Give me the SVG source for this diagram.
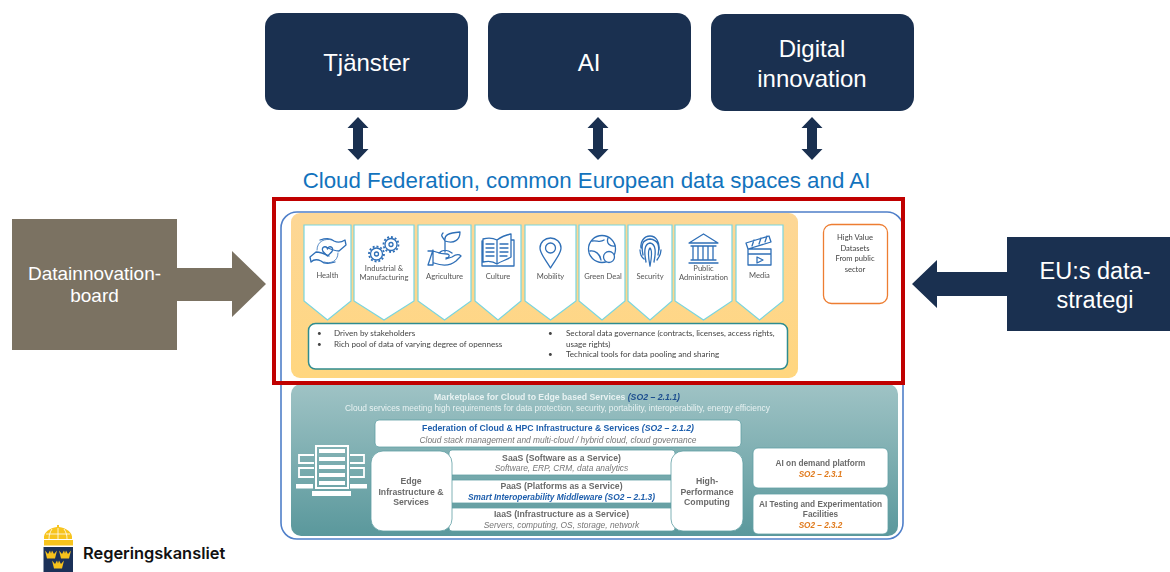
<svg xmlns="http://www.w3.org/2000/svg" xmlns:xlink="http://www.w3.org/1999/xlink" width="1170" height="572" viewBox="0 0 1170 572">
<style>
text{text-anchor:middle}
.top{font:24px "Liberation Sans",Arial,sans-serif;fill:#fff}
.side{font:19px "Liberation Sans",Arial,sans-serif;fill:#fff}
.navy{fill:#1a3050}
.pent{fill:#fff;stroke:#79d5de;stroke-width:1.200}
.lab{font:7.6px Lato,"Liberation Sans",sans-serif;fill:#555}
.bul{font:8.1px Lato,"Liberation Sans",sans-serif;fill:#444;text-anchor:start}
.ic{fill:none;stroke:#2f6fb7;stroke-width:1.300;stroke-linejoin:round;stroke-linecap:round}
.wb{fill:#fff;stroke:#5f9ea3;stroke-width:.8}
.h{font:bold 8.700px "Liberation Sans",Arial,sans-serif;fill:#6a6a6a}
.ai{font-size:8.250px}
.i{font:italic 8.400px "Liberation Sans",Arial,sans-serif;fill:#777}
.b{font-weight:bold;fill:#1f5fad}
.o{font:italic bold 8.200px "Liberation Sans",Arial,sans-serif;fill:#e07b1f}
.soft{filter:url(#s)}
</style>
<defs>
<filter id="s" x="-5%" y="-5%" width="110%" height="110%"><feGaussianBlur stdDeviation="0.4"/></filter>
<linearGradient id="y" x1="0" y1="0" x2="0" y2="1"><stop offset="0" stop-color="#fdd796"/><stop offset="1" stop-color="#ffd67f"/></linearGradient>
<linearGradient id="t" x1="0" y1="0" x2="0" y2="1"><stop offset="0" stop-color="#9fc3c5"/><stop offset="1" stop-color="#5a989c"/></linearGradient>
<g id="dbl"><path class="navy" d="M0-21.500 10.500-10.500H5V10.500H10.500L0 21.500-10.500 10.500H-5V-10.500H-10.500Z"/></g>
<g id="cr"><path fill="#f6c21c" d="M-6-4.500-3-1-1-4.500 0-1.500 1-4.500 3-1 6-4.500 4 3.500H-4Z"/></g>
</defs>
<rect width="1170" height="572" fill="#fff"/>

<g id="node-tjanster"><rect class="navy" x="265" y="13" width="203" height="97" rx="14"/><text class="top" x="366.500" y="71">Tjänster</text></g>
<g id="node-ai"><rect class="navy" x="488" y="13" width="203" height="97" rx="14"/><text class="top" x="589" y="71">AI</text></g>
<g id="node-digital"><rect class="navy" x="711" y="14" width="203" height="97" rx="14"/><text class="top" x="812" y="57">Digital</text><text class="top" x="812" y="87">innovation</text></g>

<g id="node-title"><text x="586.500" y="188" style="font:22.300px 'Liberation Sans',Arial,sans-serif;fill:#1273bd">Cloud Federation, common European data spaces and AI</text></g>

<g id="node-datainnovation"><rect x="12" y="219" width="165" height="131" fill="#7b7262"/><text class="side" x="94.500" y="280">Datainnovation-</text><text class="side" x="94.500" y="302">board</text></g>
<g id="node-eu"><rect class="navy" x="1007" y="237" width="163" height="94"/><text class="side" x="1095" y="279" style="font-size:23.500px">EU:s data-</text><text class="side" x="1095" y="308" style="font-size:23.500px">strategi</text></g>

<g id="connectors">
<use xlink:href="#dbl" x="358" y="138.500"/>
<use xlink:href="#dbl" x="598" y="138.500"/>
<use xlink:href="#dbl" x="812" y="138.500"/>
<path fill="#7b7262" d="M177 268H232V251L266 284 232 317V301H177Z"/>
<path class="navy" d="M1007 272H937V260L912 284 937 308V296H1007Z"/>
<path fill="#fff" stroke="#ed7d31" stroke-width="1.300" d="M823 262H814V259L806 265 814 271V268H823Z"/>
</g>

<g id="node-outer"><rect x="281" y="212" width="622" height="327" rx="16" fill="#fff" stroke="#4f7fc9" stroke-width="1.600"/></g>

<g id="node-yellow"><rect x="291" y="213" width="507" height="165" rx="9" fill="url(#y)"/></g>

<g class="soft">
<g id="node-health"><path class="pent" d="M304 225H351V301L327.500 320 304 301Z"/>
<g class="ic"><path d="M320 240C326 238 331 238 334 241C338 243 342 242 345 240L346 245 339 251C334 251 330 249 326 247"/><path d="M335 262C329 264 324 264 321 261C317 259 313 260 311 262L310 257 316 252C321 252 325 254 329 256"/><path d="M317 250C317 241 325 238 332 240M338 253C338 262 330 264 324 262" stroke-width=".8"/><path d="M327.500 256C323 252 321 250 323 247.500C325 246 327 247 327.500 249C328 247 330 246 332 247.500C334 250 332 252 327.500 256Z"/></g>
<text class="lab" x="327.500" y="278">Health</text></g>
<g id="node-industrial"><path class="pent" d="M354 225H414V301L384 320 354 301Z"/>
<g class="ic"><circle cx="376.500" cy="254" r="6"/><circle cx="376.500" cy="254" r="2"/><circle cx="391" cy="244.500" r="6"/><circle cx="391" cy="244.500" r="2"/><circle cx="376.500" cy="254" r="7.500" stroke-dasharray="2 1.900" stroke-width="1.800" stroke-linecap="butt"/><circle cx="391" cy="244.500" r="7.500" stroke-dasharray="2 1.900" stroke-width="1.800" stroke-linecap="butt"/></g>
<text class="lab" x="384" y="271">Industrial &amp;</text><text class="lab" x="384" y="279.500">Manufacturing</text></g>
<g id="node-agri"><path class="pent" d="M418 225H471V301L444.500 320 418 301Z"/>
<g class="ic"><path d="M428 251H433C438 253 442 254 447 254C450 254 450 258 446 258M433 250V265H428ZM434 263C442 266 450 266 456 261L461 256C459 254 455 255 452 257L446 259M439 253C442 250 447 249 452 253M445 252V241M445 241C444 235 448 233 460 232C460 240 454 244 445 241M445 241C443 237 440 236 443 233"/></g>
<text class="lab" x="444.500" y="279">Agriculture</text></g>
<g id="node-culture"><path class="pent" d="M475 225H521V301L498 320 475 301Z"/>
<g class="ic" stroke-width="1.400"><path d="M497 240C493 238 487 238 483 239V262C487 261 493 261 497 264C501 261 507 260 511 257V234C506 235 501 237 497 240ZM497 240V264M483 241H482V266H514V240H511"/><path d="M486 244H494M486 248H494M486 252H494M486 256H494M500 244H508M500 248H508M500 252H508M500 256H507"/></g>
<text class="lab" x="498" y="279">Culture</text></g>
<g id="node-mobility"><path class="pent" d="M525 225H576V301L550.500 320 525 301Z"/>
<g class="ic" stroke-width="1.500"><path d="M550.500 268C546 260 540 254 540 248C540 242 545 238 550.500 238C556 238 561 242 561 248C561 254 555 260 550.500 268Z"/><circle cx="550.500" cy="248" r="5"/></g>
<text class="lab" x="550.500" y="279">Mobility</text></g>
<g id="node-green"><path class="pent" d="M579 225H625V301L602 320 579 301Z"/>
<g class="ic" stroke-width="1.500"><circle cx="602" cy="249" r="13.500"/><path d="M592 241C597 240 600 243 604 240M590 251C595 250 600 254 601 260M608 238C606 243 610 247 615 246"/><circle cx="609" cy="257" r="5.500" fill="#fff"/></g>
<text class="lab" x="603" y="279">Green Deal</text></g>
<g id="node-security"><path class="pent" d="M628 225H672V301L650 320 628 301Z"/>
<g class="ic" stroke-width="1.300"><path d="M643 255C641 245 642 240 650 239C658 240 660 245 658 255M646 262C644 252 644 244 650 243C656 244 656 252 654 262M650 266C648 256 648 250 650 248C652 250 652 256 650 266M641 248C640 242 644 236 650 236C656 236 660 242 659 250M644 259C640 256 640 252 640 250M657 260C660 256 661 252 661 250"/></g>
<text class="lab" x="650" y="279">Security</text></g>
<g id="node-public"><path class="pent" d="M675 225H732V301L703.500 320 675 301Z"/>
<g class="ic" stroke-width="1.500"><path d="M689 243 703.500 234 718 243ZM691 246H716M693 246V259M698 246V259M703 246V259M708 246V259M713 246V259M691 260H716M689 263H718"/></g>
<text class="lab" x="703.500" y="271">Public</text><text class="lab" x="703.500" y="279.500">Administration</text></g>
<g id="node-media"><path class="pent" d="M736 225H783V301L759.500 320 736 301Z"/>
<g class="ic" stroke-width="1.500"><path d="M748 249H771V265H748ZM748 254H771M748 249 746 243 769 236 771 242 748 249M752 246 754 240M759 244 761 238M765 242 767 236M757 257V263L763 260Z"/></g>
<text class="lab" x="759.500" y="278">Media</text></g>

<g id="node-bullets"><rect x="308.500" y="323.500" width="479" height="45.500" rx="7" fill="#fff" stroke="#2f8c8f" stroke-width="1.500"/>
<text class="bul" x="317" y="336">•</text><text class="bul" x="334" y="336">Driven by stakeholders</text>
<text class="bul" x="317" y="346.500">•</text><text class="bul" x="334" y="346.500">Rich pool of data of varying degree of openness</text>
<text class="bul" x="548" y="336">•</text><text class="bul" x="566" y="336">Sectoral data governance (contracts, licenses, access rights,</text>
<text class="bul" x="566" y="346.500">usage rights)</text>
<text class="bul" x="548" y="357">•</text><text class="bul" x="566" y="357">Technical tools for data pooling and sharing</text></g>

<g id="node-hvd"><rect x="823.500" y="224.500" width="64" height="79" rx="8" fill="#fff" stroke="#ed7d31" stroke-width="1.300"/>
<text class="lab" x="855" y="240" style="fill:#444">High Value</text><text class="lab" x="855" y="251" style="fill:#444">Datasets</text><text class="lab" x="855" y="261" style="fill:#444">From public</text><text class="lab" x="855" y="272" style="fill:#444">sector</text></g>
</g>

<g id="node-teal"><rect x="291" y="384" width="607" height="152" rx="10" fill="url(#t)"/></g>

<g class="soft">
<g id="node-market"><text x="557" y="400" style="font:bold 8.700px 'Liberation Sans',Arial,sans-serif;fill:#e8f2f2">Marketplace for Cloud to Edge based Services <tspan font-style="italic" fill="#1f4f8f">(SO2 – 2.1.1)</tspan></text>
<text x="557.500" y="411" style="font:8.400px 'Liberation Sans',Arial,sans-serif;fill:#e8f2f2">Cloud services meeting high requirements for data protection, security, portability, interoperability, energy efficiency</text></g>
<g id="node-servers" fill="#fff"><rect x="316" y="446" width="32" height="42" fill="none" stroke="#fff" stroke-width="2"/>
<path d="M319 449H345V453H319ZM319 457H345V461H319ZM319 465H345V469H319ZM319 473H345V477H319ZM319 481H345V485H319Z"/>
<rect x="312" y="491" width="39" height="5"/>
<path d="M314 455H299V463H314M314 468H299V477H314" fill="none" stroke="#fff" stroke-width="1.800"/>
<path d="M350 455H364V463H350M350 468H364V477H350" fill="none" stroke="#fff" stroke-width="1.800"/>
<rect x="296" y="484" width="17" height="4.500"/><rect x="350" y="484" width="17" height="4.500"/></g>

<g id="node-federation"><rect class="wb" x="375" y="420" width="366" height="27" rx="4"/>
<text x="558" y="431" style="font:bold 8.700px 'Liberation Sans',Arial,sans-serif;fill:#1f5fad">Federation of Cloud &amp; HPC Infrastructure &amp; Services <tspan font-style="italic">(SO2 – 2.1.2)</tspan></text>
<text class="i" x="558" y="442.500">Cloud stack management and multi-cloud / hybrid cloud, cloud governance</text></g>

<g id="node-saas"><rect class="wb" x="449" y="450" width="226" height="25" rx="3"/><text class="h" x="561.500" y="460.500">SaaS (Software as a Service)</text><text class="i" x="561.500" y="471">Software, ERP, CRM, data analytics</text></g>
<g id="node-paas"><rect class="wb" x="449" y="480" width="226" height="23" rx="3"/><text class="h" x="561.500" y="489">PaaS (Platforms as a Service)</text><text class="i b" x="561.500" y="499.500">Smart Interoperability Middleware (SO2 – 2.1.3)</text></g>
<g id="node-iaas"><rect class="wb" x="449" y="508" width="226" height="23" rx="3"/><text class="h" x="561.500" y="517">IaaS (Infrastructure as a Service)</text><text class="i" x="561.500" y="527.500">Servers, computing, OS, storage, network</text></g>

<g id="node-edge"><rect class="wb" x="371" y="451" width="81" height="80" rx="12"/><text class="h" x="411" y="484">Edge</text><text class="h" x="411" y="494.500">Infrastructure &amp;</text><text class="h" x="411" y="505">Services</text></g>
<g id="node-hpc"><rect class="wb" x="671" y="451" width="72" height="80" rx="12"/><text class="h" x="707" y="484">High-</text><text class="h" x="707" y="494.500">Performance</text><text class="h" x="707" y="505">Computing</text></g>

<g id="node-aidemand"><rect class="wb" x="753" y="448" width="135" height="40" rx="5"/><text class="h ai" x="820.500" y="466">AI on demand platform</text><text class="o" x="820.500" y="477">SO2 – 2.3.1</text></g>
<g id="node-aitesting"><rect class="wb" x="753" y="494" width="135" height="40" rx="5"/><text class="h ai" x="820.500" y="507">AI Testing and Experimentation</text><text class="h ai" x="820.500" y="517">Facilities</text><text class="o" x="820.500" y="527.500">SO2 – 2.3.2</text></g>
</g>

<g id="node-frame"><rect x="274" y="199" width="629" height="184" fill="none" stroke="#c00000" stroke-width="4"/></g>

<g id="node-logo">
<path fill="#f7c41e" d="M44 539C43 532 50 528 57 527V525H59V527C66 528 73 532 72 539Z"/>
<path fill="none" stroke="#fff" stroke-width=".8" d="M58 528V539M52 529C50 532 49 535 49 539M64 529C66 532 67 535 67 539M46 534H70"/>
<rect x="44" y="540" width="29" height="5.500" fill="#f7c41e"/>
<path fill="#1b3158" d="M43.500 547H73V572H43.500Z"/>
<use xlink:href="#cr" x="51" y="555"/><use xlink:href="#cr" x="65" y="555"/><use xlink:href="#cr" x="58" y="565"/>
<text x="83" y="559" style="font:600 16.400px Inter,'Liberation Sans',sans-serif;fill:#111;text-anchor:start">Regeringskansliet</text>
</g>
</svg>
